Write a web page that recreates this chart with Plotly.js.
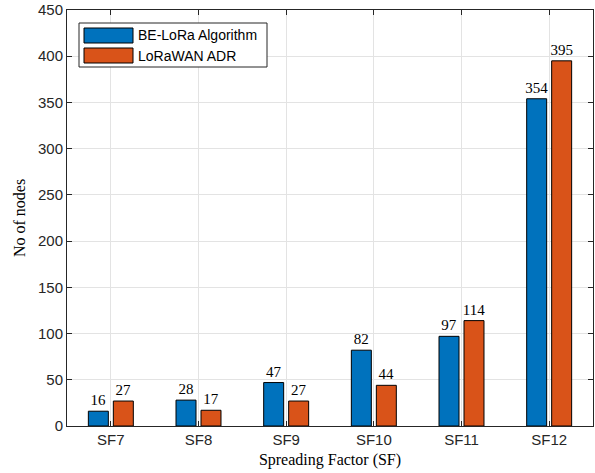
<!DOCTYPE html>
<html>
<head>
<meta charset="utf-8">
<script src="https://cdn.plot.ly/plotly-3.0.1.min.js"></script>
<style>
  html, body { margin: 0; padding: 0; background: #fff; }
  #chart { width: 595px; height: 473px; }
</style>
</head>
<body>
<div id="chart"></div>
<script>
// Node counts per spreading factor for each scheme
const categories = ['SF7', 'SF8', 'SF9', 'SF10', 'SF11', 'SF12'];
const beLoraValues = [16, 28, 47, 82, 97, 354];
const adrValues = [27, 17, 27, 44, 114, 395];
const seriesNames = ['BE-LoRa Algorithm', 'LoRaWAN ADR'];
const seriesColors = ['#0072BD', '#D95319'];
const yTicks = [0, 50, 100, 150, 200, 250, 300, 350, 400, 450];

const SANS = 'Liberation Sans, Arial, Helvetica, sans-serif';
const SERIF = 'Liberation Serif, Times New Roman, serif';

function barTrace(values, i) {
  return {
    type: 'bar',
    x: categories,
    y: values,
    name: seriesNames[i],
    marker: { color: seriesColors[i], line: { color: '#000', width: 1 } },
    text: values.map(String),
    texttemplate: '%{text}',
    textposition: 'outside',
    constraintext: 'none',
    cliponaxis: false,
    textfont: { family: SERIF, size: 15, color: '#000' },
    hoverinfo: 'x+y'
  };
}

const traces = [barTrace(beLoraValues, 0), barTrace(adrValues, 1)];

// Plot area geometry (pixels) used to place the boxed legend
const M = { l: 67, r: 2, t: 10, b: 47 };
const W = 595 - M.l - M.r;
const H = 473 - M.t - M.b;
const px = x => (x - M.l) / W;
const py = y => (473 - M.b - y) / H;

const shapes = [{
  type: 'rect', xref: 'paper', yref: 'paper',
  x0: px(79), x1: px(267), y0: py(67), y1: py(23),
  line: { color: '#262626', width: 1 }, fillcolor: '#fff', layer: 'above'
}];
const annotations = [];
seriesNames.forEach((name, i) => {
  const top = 28 + i * 20;
  shapes.push({
    type: 'rect', xref: 'paper', yref: 'paper',
    x0: px(84), x1: px(133), y0: py(top + 15), y1: py(top),
    line: { color: '#000', width: 1 }, fillcolor: seriesColors[i], layer: 'above'
  });
  annotations.push({
    xref: 'paper', yref: 'paper', x: px(136), y: py(top + 7.5),
    xanchor: 'left', yanchor: 'middle', showarrow: false,
    text: name, font: { family: SANS, size: 14, color: '#000' }
  });
});

const layout = {
  width: 595, height: 473,
  margin: M,
  paper_bgcolor: '#fff', plot_bgcolor: '#fff',
  barmode: 'group',
  bargap: 0.43,
  bargroupgap: 0.2,
  showlegend: false,
  font: { family: SANS, color: '#262626' },
  xaxis: {
    type: 'category',
    range: [-0.5, 5.5],
    showline: true, linecolor: '#262626', linewidth: 1, mirror: 'ticks',
    ticks: 'inside', ticklen: 5, tickcolor: '#262626',
    showgrid: true, gridcolor: '#e3e3e3', gridwidth: 1,
    tickfont: { family: SANS, size: 15, color: '#262626' },
    automargin: false,
    title: { text: 'Spreading Factor (SF)', font: { family: SERIF, size: 16, color: '#000' }, standoff: 6 }
  },
  yaxis: {
    range: [0, 450],
    tickvals: yTicks,
    ticktext: yTicks.map(String),
    zeroline: false,
    showline: true, linecolor: '#262626', linewidth: 1, mirror: 'ticks',
    ticks: 'inside', ticklen: 5, tickcolor: '#262626',
    showgrid: true, gridcolor: '#e3e3e3', gridwidth: 1,
    tickfont: { family: SANS, size: 15, color: '#262626' },
    automargin: false,
    title: { text: 'No of nodes', font: { family: SERIF, size: 16, color: '#000' }, standoff: 8 }
  },
  shapes: shapes,
  annotations: annotations
};

Plotly.newPlot('chart', traces, layout, { staticPlot: true, displayModeBar: false });
</script>
</body>
</html>
